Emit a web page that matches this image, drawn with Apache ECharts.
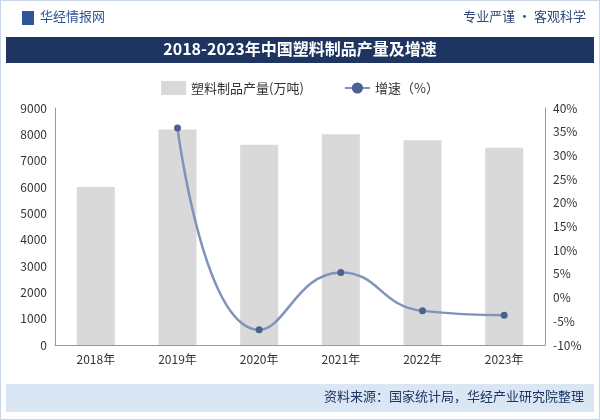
<!DOCTYPE html>
<html><head><meta charset="utf-8">
<script src="https://cdn.jsdelivr.net/npm/echarts@6/dist/echarts.min.js"></script>
<style>html,body{margin:0;padding:0;background:#fff}#c{width:600px;height:420px}</style>
</head><body><div id="c"></div>
<script>
const years=['2018年','2019年','2020年','2021年','2022年','2023年'];
const output=[6000,8180,7600,8000,7780,7490];
const growth=[null,35.8,-6.8,5.3,-2.8,-3.7];
const leftTicks={min:0,max:9000,interval:1000};
const rightTicks={min:-10,max:40,interval:5};
const chart=echarts.init(document.getElementById('c'));
const F='"Noto Sans CJK SC"';
chart.setOption({
  animation:false,
  textStyle:{fontFamily:F},
  graphic:[
    {type:'rect',shape:{x:0,y:0,width:600,height:420},style:{fill:'#fff',stroke:'#c9d6ea',lineWidth:2}},
    {type:'rect',shape:{x:6,y:37,width:588,height:26},style:{fill:'#1d3560'}},
    {type:'text',left:'center',top:41,style:{text:'2018-2023年中国塑料制品产量及增速',fill:'#fff',font:'bold 16px '+F}},
    {type:'rect',shape:{x:22,y:11,width:12,height:14},style:{fill:'#2f5596'}},
    {type:'text',left:40,top:10,style:{text:'华经情报网',fill:'#2f5596',font:'13px '+F}},
    {type:'text',right:14,top:10,style:{text:'专业严谨 • 客观科学',fill:'#2f4a7a',font:'13px '+F}},
    {type:'rect',shape:{x:6,y:384,width:588,height:28},style:{fill:'#dbe6f5'}},
    {type:'text',right:16,top:390,style:{text:'资料来源：国家统计局，华经产业研究院整理',fill:'#1d3560',font:'13px '+F}}
  ],
  legend:{top:76,left:'center',itemGap:40,textStyle:{fontSize:13,color:'#333'},
    data:[{name:'塑料制品产量(万吨)',icon:'rect'},{name:'增速（%）'}]},
  grid:{left:55,right:55,top:108,bottom:75},
  xAxis:{type:'category',data:years,axisTick:{show:false},axisLine:{lineStyle:{color:'#999'}},axisLabel:{color:'#333',fontSize:12}},
  yAxis:[
    {type:'value',...leftTicks,splitLine:{show:false},axisLine:{show:true,lineStyle:{color:'#999'}},axisLabel:{color:'#333',fontSize:12,formatter:v=>String(v)}},
    {type:'value',...rightTicks,splitLine:{show:false},axisLine:{show:true,lineStyle:{color:'#999'}},axisLabel:{color:'#333',fontSize:12,formatter:'{value}%'}}
  ],
  series:[
    {name:'塑料制品产量(万吨)',type:'bar',data:output,barWidth:38,itemStyle:{color:'#d9d9d9'}},
    {name:'增速（%）',type:'line',yAxisIndex:1,data:growth,smooth:true,symbol:'circle',symbolSize:7,
     itemStyle:{color:'#4a6192'},lineStyle:{color:'#7f93bb',width:2.5}}
  ]
});
</script></body></html>
